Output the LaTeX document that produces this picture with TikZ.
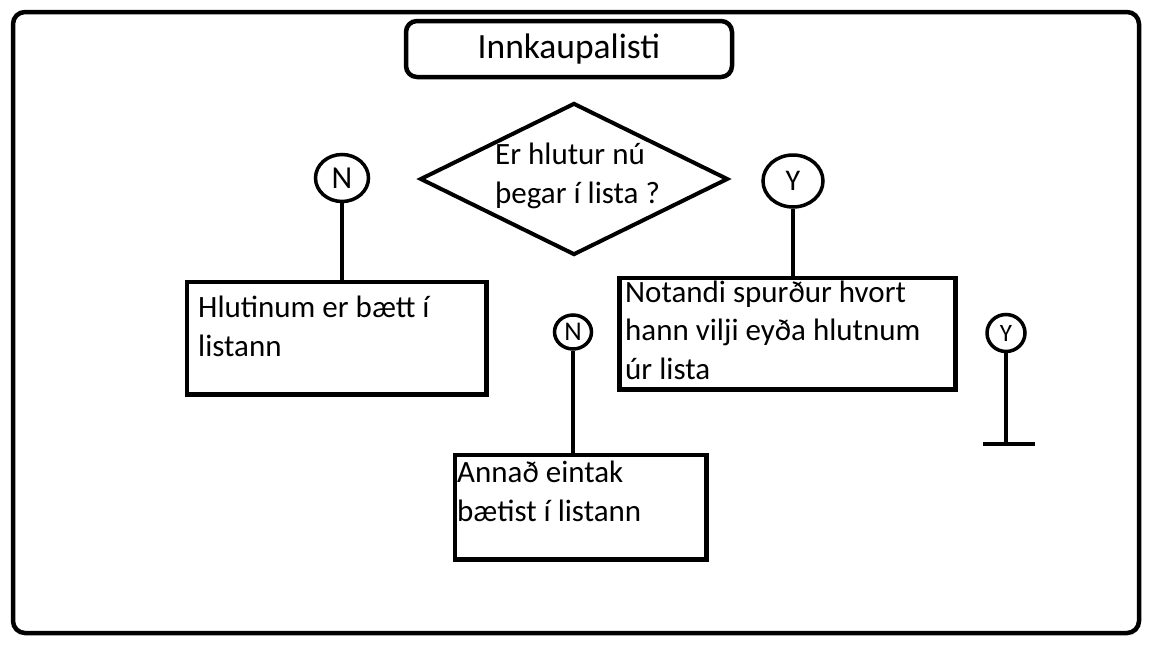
\documentclass[tikz,border=0pt]{standalone}
\usepackage{fontspec}
\setmainfont{Carlito}
\usetikzlibrary{shapes.geometric}
\begin{document}
\begin{tikzpicture}[x=1pt,y=-1pt]

        \useasboundingbox (0,0) rectangle (1152,648);
        \draw[line width=4.5,rounded corners=12] (13,12) rectangle (1139,633);

        \node[draw,line width=4.5,rounded corners=11,minimum width=326,minimum height=56,
              inner sep=0,font=\fontsize{35.5}{40}\selectfont] (title) at (569,49) {Innkaupalisti};

        \node[draw,diamond,line width=4,minimum width=308,minimum height=152,inner sep=0] (q) at (574,179) {};

        \begin{scope}[every node/.style={draw,anchor=north west,line width=4.5,inner sep=0}]
          \node[minimum width=299.5,minimum height=112.5] (b1) at (184.5,279.5) {};
          \node[minimum width=336,minimum height=111.5]   (b2) at (617,275.5)   {};
          \node[minimum width=251.5,minimum height=104.5] (b3) at (452.5,452.5) {};
        \end{scope}

        \begin{scope}[every node/.style={anchor=base west,align=left,inner sep=0,
                      font=\fontsize{31}{38.5}\selectfont}]
          \node (qt) at (495,203) {Er hlutur nú\\þegar í lista ?};
          \node (t1) at (198,356) {Hlutinum er bætt í\\listann};
          \node (t2) at (625,379) {Notandi spurður hvort\\hann vilji eyða hlutnum\\úr lista};
          \node (t3) at (457,521) {Annað eintak\\bætist í listann};
        \end{scope}

        \begin{scope}[every node/.style={ellipse,draw,line width=3.5,inner sep=0}]
          \node[minimum width=53,minimum height=47,font=\fontsize{32}{32}\selectfont] (n1) at (342,178) {N};
          \node[minimum width=60,minimum height=52,font=\fontsize{30}{30}\selectfont] (y1) at (793,181) {Y};
          \node[minimum width=37,minimum height=34,font=\fontsize{27}{27}\selectfont] (n2) at (573,332) {N};
          \node[minimum width=38,minimum height=37,font=\fontsize{25}{25}\selectfont] (y2) at (1006,333) {Y};
        \end{scope}

        \coordinate (stop) at (y2 |- 0,444);

        \begin{scope}[line width=4]
          \draw (n1) -- (n1 |- b1.north);
          \draw (y1) -- (y1 |- b2.north);
          \draw (n2) -- (n2 |- b3.north);
          \draw (y2) -- (stop);
          \draw ([xshift=-23]stop) -- ([xshift=29]stop);
        \end{scope}

      \end{tikzpicture}
\end{document}
